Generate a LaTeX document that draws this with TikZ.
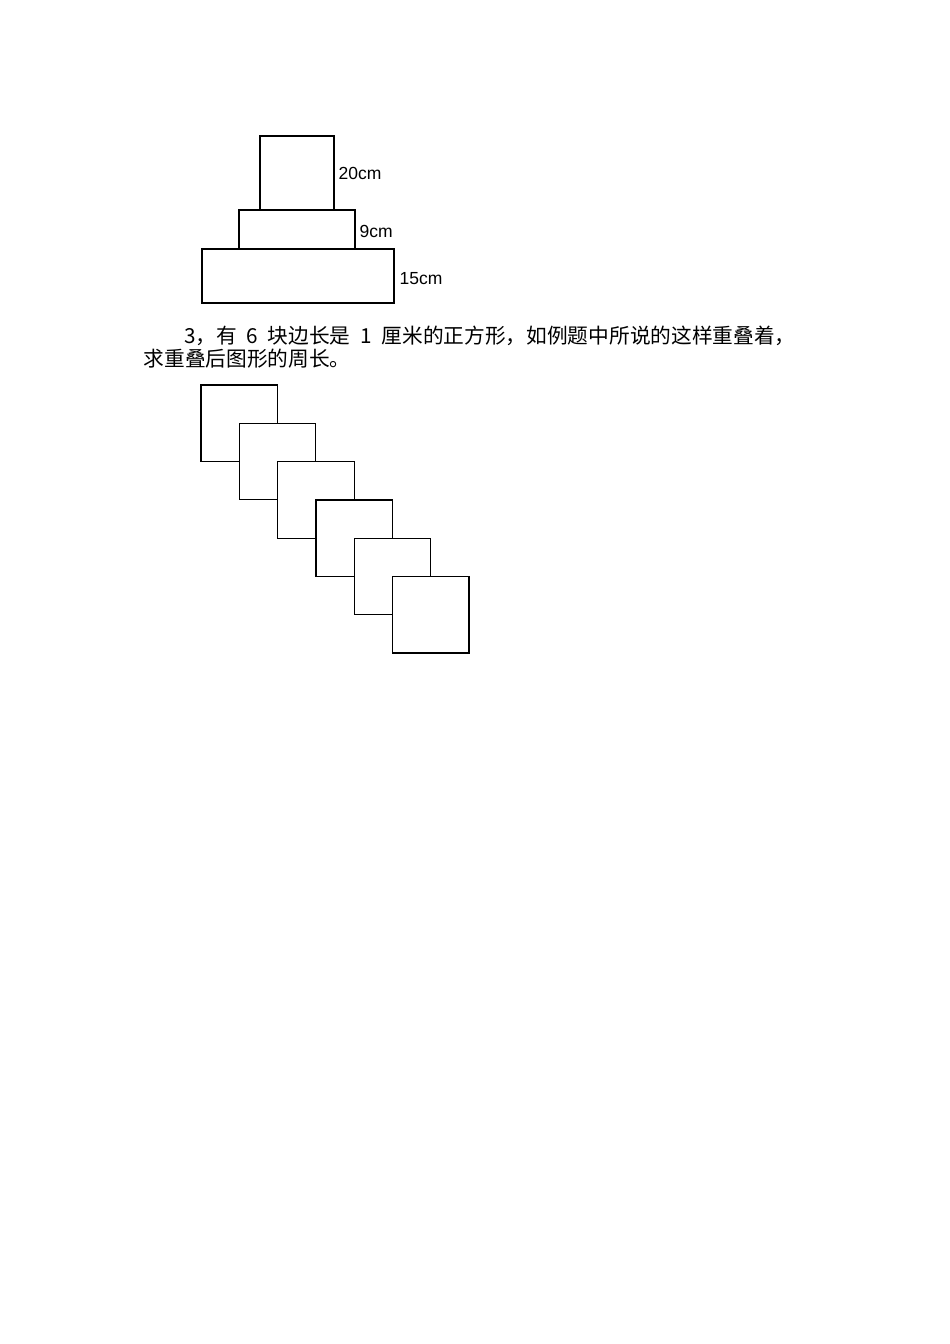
\documentclass[tikz,border=0pt]{standalone}
\usepackage{fontspec}
\newfontfamily\cjk{Noto Sans CJK SC}
\newfontfamily\labelfont{Liberation Sans}
\newcommand\halfw[1]{\makebox[.5em]{#1}}

\begin{document}
\begin{tikzpicture}[x=1pt,y=-1pt,line width=1.2pt,
  heightlabel/.style={anchor=west,inner sep=0,font=\labelfont\fontsize{17.5}{20}\selectfont},
  textline/.style={anchor=base west,inner sep=0,font=\cjk\fontsize{20.7}{23}\selectfont}]
  % Constants
  \pgfmathsetmacro\s{76.5}
  \pgfmathsetmacro\g{38.3}
  \pgfmathsetmacro\x{201}
  \pgfmathsetmacro\y{385}
  % Boundary
  \path[use as bounding box] (0,0) rectangle (950,1344);
  % Stacked rectangles
  \draw (260,136) rectangle (334,210);
  \draw (239,210) rectangle (355,249);
  \draw (202,249) rectangle (394,303);
  % Heights
  \node[heightlabel] (h20) at (338,173) {20cm};
  \node[heightlabel] (h9) at (359,231) {9cm};
  \node[heightlabel] (h15) at (399,278.5) {15cm};
  % Question
  \node[textline] (q1) at (143,343.5) {\hspace{2em}\halfw{3}，有\halfw{}\halfw{6}\halfw{}块边长是\halfw{}\halfw{1}\halfw{}厘米的正方形，如例题中所说的这样重叠着，};
  \node[textline] (q2) at (143,366.5) {求重叠后图形的周长。};
  % Overlapping squares
  \filldraw[fill=white] (\x,\y) rectangle ++(\s,\s);
  \filldraw[fill=white] (\x+\g,\y+\g) rectangle ++(\s,\s);
  \filldraw[fill=white] (\x+2*\g,\y+2*\g) rectangle ++(\s,\s);
  \filldraw[fill=white] (\x+3*\g,\y+3*\g) rectangle ++(\s,\s);
  \filldraw[fill=white] (\x+4*\g,\y+4*\g) rectangle ++(\s,\s);
  \filldraw[fill=white] (\x+5*\g,\y+5*\g) rectangle ++(\s,\s);
\end{tikzpicture}
\end{document}
